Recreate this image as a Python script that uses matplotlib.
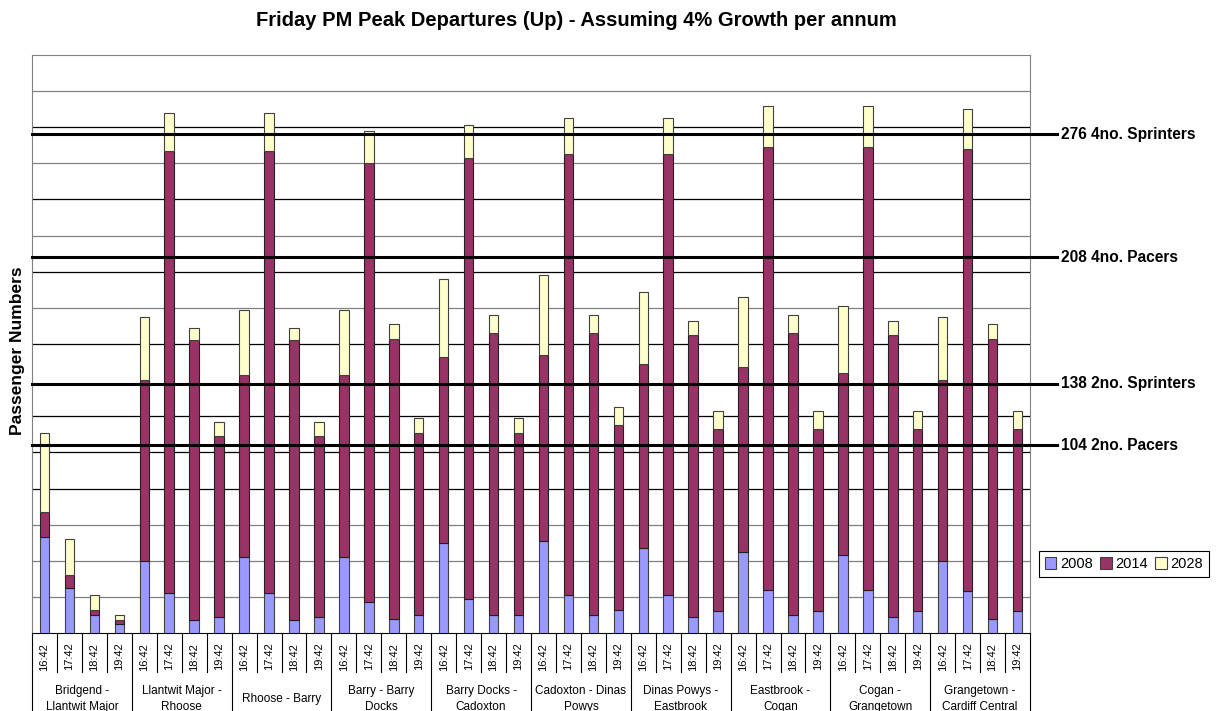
import matplotlib.pyplot as plt
from matplotlib.patches import Patch
import numpy as np

plt.rcParams['font.family'] = ['Liberation Sans', 'DejaVu Sans']

groups = ["Bridgend -\nLlantwit Major", "Llantwit Major -\nRhoose", "Rhoose - Barry",
          "Barry - Barry\nDocks", "Barry Docks -\nCadoxton", "Cadoxton - Dinas\nPowys",
          "Dinas Powys -\nEastbrook", "Eastbrook -\nCogan", "Cogan -\nGrangetown",
          "Grangetown -\nCardiff Central"]
times = ["16:42", "17:42", "18:42", "19:42"]

# segment heights per bar (group by group, 4 departures each)
s2008 = [53, 25, 10, 5,   40, 22, 7, 9,    42, 22, 7, 9,    42, 17, 8, 10,
         50, 19, 10, 10,  51, 21, 10, 13,  47, 21, 9, 12,   45, 24, 10, 12,
         43, 24, 9, 12,   40, 23, 8, 12]
s2014 = [14, 7, 3, 2,     100, 245, 155, 100,  101, 245, 155, 100,  101, 243, 155, 101,
         103, 244, 156, 101,  103, 244, 156, 102,  102, 244, 156, 101,  102, 245, 156, 101,
         101, 245, 156, 101,  100, 245, 155, 101]
s2028 = [44, 20, 8, 3,    35, 21, 7, 8,    36, 21, 7, 8,    36, 18, 8, 8,
         43, 18, 10, 8,   44, 20, 10, 10,  40, 20, 8, 10,   39, 23, 10, 10,
         37, 23, 8, 10,   35, 22, 8, 10]

capacity = [276, 208, 138, 104]
capacity_labels = ["276 4no. Sprinters", "208 4no. Pacers", "138 2no. Sprinters", "104 2no. Pacers"]

c2008, c2014, c2028 = '#9999FF', '#993366', '#FFFFCC'

W, H = 1218, 711
fig = plt.figure(figsize=(W / 100, H / 100), dpi=100)
ax = fig.add_axes([32 / W, 1 - 633 / H, (1030 - 32) / W, (633 - 55) / H])

n = len(s2008)
x = np.arange(n)
a = np.array(s2008)
b = np.array(s2014)
c = np.array(s2028)

ax.set_xlim(-0.5, n - 0.5)
ax.set_ylim(0, 320)

# gridlines (mixed grey / black as in the original)
grid_vals = [20, 40, 60, 80, 100, 120, 160, 180, 200, 220, 240, 260, 280, 300]
grid_cols = ['#808080', '#808080', '#808080', 'black', 'black', 'black', 'black',
             '#808080', 'black', '#808080', 'black', '#808080', 'black', '#808080']
for v, col in zip(grid_vals, grid_cols):
    ax.axhline(v, color=col, lw=0.9, zorder=1)

bw = 0.38
ax.bar(x, a, bw, color=c2008, edgecolor='#404040', lw=0.8, zorder=3)
ax.bar(x, b, bw, bottom=a, color=c2014, edgecolor='#202020', lw=0.8, zorder=3)
ax.bar(x, c, bw, bottom=a + b, color=c2028, edgecolor='#404040', lw=0.8, zorder=3)

# capacity lines running out past the plot
ytr = ax.get_yaxis_transform()
for v, lab in zip(capacity, capacity_labels):
    ax.plot([0, 1.027], [v, v], color='black', lw=2.2, transform=ytr, clip_on=False, zorder=4)
    ax.text(1.031, v, lab, transform=ytr, va='center', ha='left',
            fontsize=11.2, fontweight='bold')

for side in ['top', 'right', 'left']:
    ax.spines[side].set_color('#808080')
ax.spines['bottom'].set_color('black')
ax.set_yticks([])

ax.set_xticks(x)
ax.set_xticklabels(times * len(groups), rotation=90, fontsize=8)
ax.tick_params(axis='x', length=0, pad=7)

# separators below the axis
xtr = ax.get_xaxis_transform()
ax_h = 633 - 55
for i in range(1, n):
    if i % 4 == 0:
        continue
    ax.plot([i - 0.5, i - 0.5], [0, -(672 - 633) / ax_h], color='black', lw=0.8,
            transform=xtr, clip_on=False)
for k in range(len(groups) + 1):
    xs = 4 * k - 0.5
    ax.plot([xs, xs], [0, -(715 - 633) / ax_h], color='black', lw=0.8,
            transform=xtr, clip_on=False)
for k, g in enumerate(groups):
    ax.text(4 * k + 1.5, -(699 - 633) / ax_h, g, transform=xtr, ha='center', va='center',
            fontsize=8.5, linespacing=1.35)

fig.text(576 / W, 1 - 20 / H, "Friday PM Peak Departures (Up) - Assuming 4% Growth per annum",
         ha='center', va='center', fontsize=14.5, fontweight='bold')
fig.text(18 / W, 1 - 351 / H, "Passenger Numbers", rotation=90, ha='center', va='center',
         fontsize=12.5, fontweight='bold')

handles = [Patch(facecolor=col, edgecolor='#404040', lw=0.8) for col in (c2008, c2014, c2028)]
leg = fig.legend(handles, ['2008', '2014', '2028'], loc='center',
                 bbox_to_anchor=(1124 / W, 1 - 564 / H), ncol=3, fontsize=10.5,
                 handlelength=0.8, handleheight=0.8, handletextpad=0.25,
                 columnspacing=0.5, fancybox=False, framealpha=1,
                 borderpad=0.4)
leg.get_frame().set_edgecolor('black')
leg.get_frame().set_linewidth(0.8)

fig.savefig('out.png', dpi=100)
